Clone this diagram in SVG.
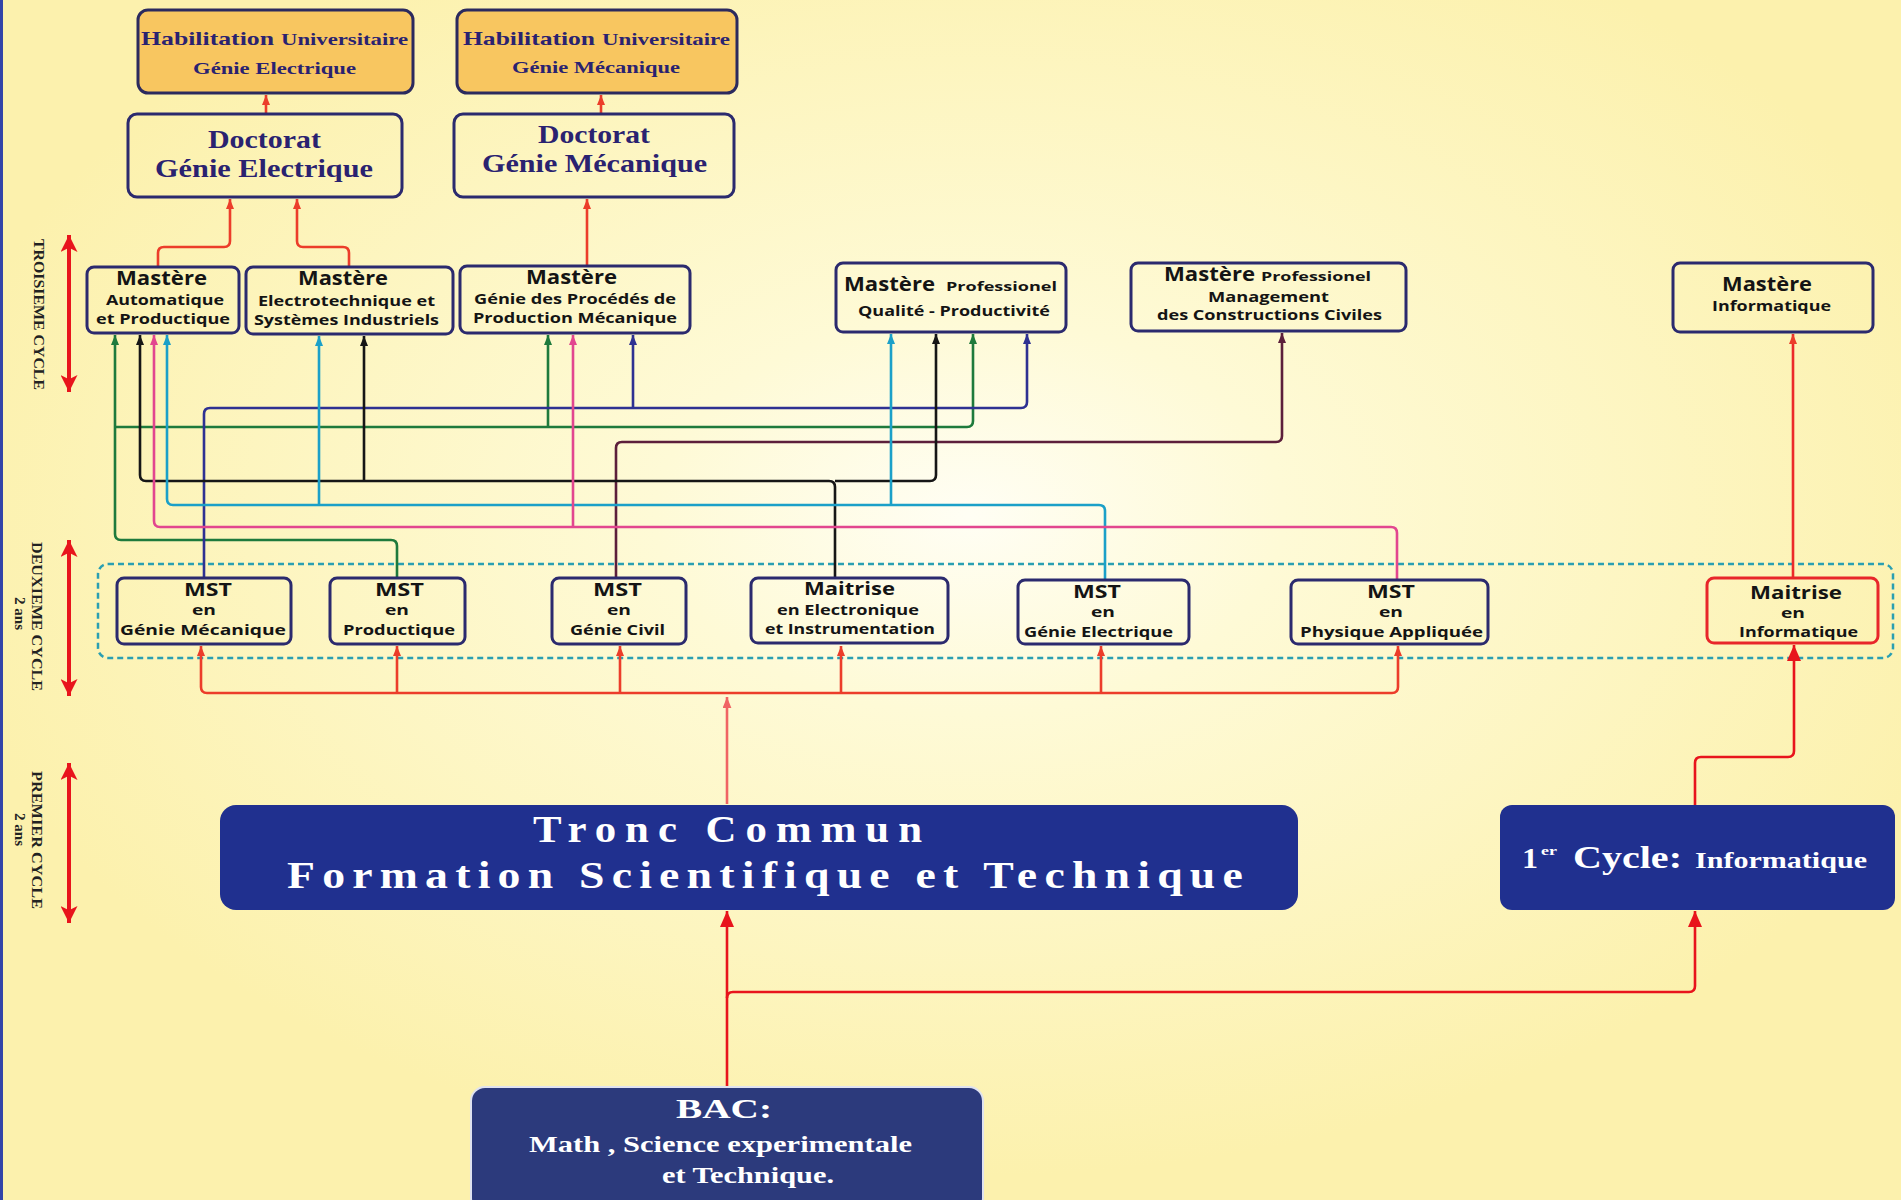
<svg xmlns="http://www.w3.org/2000/svg" width="1901" height="1200" viewBox="0 0 1901 1200">
<defs>
<radialGradient id="bg" cx="51%" cy="43%" r="55%">
<stop offset="0" stop-color="#fffef4"/>
<stop offset="0.3" stop-color="#fefad6"/>
<stop offset="1" stop-color="#fcf1ad"/>
</radialGradient>
<marker id="aGreen" viewBox="0 0 10 8" refX="10" refY="4" markerWidth="10" markerHeight="8" markerUnits="userSpaceOnUse" orient="auto"><path d="M0,0 L10,4 L0,8 z" fill="#1e7a3c"/></marker>
<marker id="aNavy" viewBox="0 0 10 8" refX="10" refY="4" markerWidth="10" markerHeight="8" markerUnits="userSpaceOnUse" orient="auto"><path d="M0,0 L10,4 L0,8 z" fill="#2e3192"/></marker>
<marker id="aBlack" viewBox="0 0 10 8" refX="10" refY="4" markerWidth="10" markerHeight="8" markerUnits="userSpaceOnUse" orient="auto"><path d="M0,0 L10,4 L0,8 z" fill="#161616"/></marker>
<marker id="aCyan" viewBox="0 0 10 8" refX="10" refY="4" markerWidth="10" markerHeight="8" markerUnits="userSpaceOnUse" orient="auto"><path d="M0,0 L10,4 L0,8 z" fill="#1ba0c8"/></marker>
<marker id="aMag" viewBox="0 0 10 8" refX="10" refY="4" markerWidth="10" markerHeight="8" markerUnits="userSpaceOnUse" orient="auto"><path d="M0,0 L10,4 L0,8 z" fill="#e2468f"/></marker>
<marker id="aMar" viewBox="0 0 10 8" refX="10" refY="4" markerWidth="10" markerHeight="8" markerUnits="userSpaceOnUse" orient="auto"><path d="M0,0 L10,4 L0,8 z" fill="#5c1f3b"/></marker>
<marker id="aOr" viewBox="0 0 10 8" refX="10" refY="4" markerWidth="10" markerHeight="8" markerUnits="userSpaceOnUse" orient="auto"><path d="M0,0 L10,4 L0,8 z" fill="#ec3d2a"/></marker>
<marker id="aPink" viewBox="0 0 10 8" refX="10" refY="4" markerWidth="11" markerHeight="9" markerUnits="userSpaceOnUse" orient="auto"><path d="M0,0 L10,4 L0,8 z" fill="#f06464"/></marker>
<marker id="aBig" viewBox="0 0 16 14" refX="16" refY="7" markerWidth="16" markerHeight="14" markerUnits="userSpaceOnUse" orient="auto"><path d="M0,0 L16,7 L0,14 z" fill="#e8141c"/></marker>
<marker id="aCyc" viewBox="0 0 16 16" refX="16" refY="8" markerWidth="17" markerHeight="17" markerUnits="userSpaceOnUse" orient="auto-start-reverse"><path d="M0,0 L16,8 L0,16 L4,8 z" fill="#e8141c"/></marker>
</defs>
<style>
.box{fill:none;stroke:#2b2a6e;stroke-width:3}
.hab{fill:#f8c660;stroke:#2b2a5e;stroke-width:3}
.dk{fill:#20308f}
.s{font-family:"Open Sans","Liberation Sans",sans-serif;font-weight:700;fill:#141414}
.r{font-family:"Liberation Serif",serif;font-weight:700;fill:#2a2270}
.w{font-family:"Liberation Serif",serif;font-weight:700;fill:#ffffff}
.cy{font-family:"Liberation Serif",serif;font-weight:700;fill:#222222;font-size:14px}
.c{fill:none;stroke-width:2.6;stroke-linejoin:round}
</style>

<rect x="0" y="0" width="1901" height="1200" fill="url(#bg)"/>
<rect x="0" y="0" width="3" height="1200" fill="#3344a8"/>

<g id="cycles">
<line x1="69" y1="235" x2="69" y2="392" stroke="#e8141c" stroke-width="4" marker-start="url(#aCyc)" marker-end="url(#aCyc)"/>
<line x1="69" y1="540" x2="69" y2="696" stroke="#e8141c" stroke-width="4" marker-start="url(#aCyc)" marker-end="url(#aCyc)"/>
<line x1="69" y1="763" x2="69" y2="923" stroke="#e8141c" stroke-width="4" marker-start="url(#aCyc)" marker-end="url(#aCyc)"/>
<text class="cy" transform="translate(34,239) rotate(90)" textLength="151" lengthAdjust="spacingAndGlyphs">TROISIEME CYCLE</text>
<text class="cy" transform="translate(32,542) rotate(90)" textLength="149" lengthAdjust="spacingAndGlyphs">DEUXIEME CYCLE</text>
<text class="cy" transform="translate(15,597) rotate(90)" textLength="33" lengthAdjust="spacingAndGlyphs">2 ans</text>
<text class="cy" transform="translate(32,771) rotate(90)" textLength="138" lengthAdjust="spacingAndGlyphs">PREMIER CYCLE</text>
<text class="cy" transform="translate(15,813) rotate(90)" textLength="33" lengthAdjust="spacingAndGlyphs">2 ans</text>
</g>

<rect id="deuxieme-cycle-frame" x="98" y="564" width="1795" height="94" rx="10" fill="none" stroke="#2a9fb2" stroke-width="2.5" stroke-dasharray="6 4"/>

<g id="connectors">
<path class="c" stroke="#ec3d2a" d="M158,267 V253 Q158,247 164,247 H224 Q230,247 230,241 V199" marker-end="url(#aOr)"/>
<path class="c" stroke="#ec3d2a" d="M349,267 V253 Q349,247 343,247 H303 Q297,247 297,241 V199" marker-end="url(#aOr)"/>
<path class="c" stroke="#ec3d2a" d="M587,266 V199" marker-end="url(#aOr)"/>
<path class="c" stroke="#ec3d2a" d="M266,114 V95" marker-end="url(#aOr)"/>
<path class="c" stroke="#ec3d2a" d="M601,114 V95" marker-end="url(#aOr)"/>
<path class="c" stroke="#1e7a3c" d="M397,578 V546 Q397,540 391,540 H121 Q115,540 115,534 V335" marker-end="url(#aGreen)"/>
<path class="c" stroke="#1e7a3c" d="M115,427 H967 Q973,427 973,421 V334" marker-end="url(#aGreen)"/>
<path class="c" stroke="#1e7a3c" d="M548,427 V335" marker-end="url(#aGreen)"/>
<path class="c" stroke="#2e3192" d="M204,578 V414 Q204,408 210,408 H1021 Q1027,408 1027,402 V334" marker-end="url(#aNavy)"/>
<path class="c" stroke="#2e3192" d="M633,408 V335" marker-end="url(#aNavy)"/>
<path class="c" stroke="#5c1f3b" d="M616,578 V448 Q616,442 622,442 H1276 Q1282,442 1282,436 V333" marker-end="url(#aMar)"/>
<path class="c" stroke="#161616" d="M835,578 V487 Q835,481 829,481 H146 Q140,481 140,475 V335" marker-end="url(#aBlack)"/>
<path class="c" stroke="#161616" d="M835,481 H930 Q936,481 936,475 V334" marker-end="url(#aBlack)"/>
<path class="c" stroke="#161616" d="M364,481 V336" marker-end="url(#aBlack)"/>
<path class="c" stroke="#1ba0c8" d="M1105,580 V511 Q1105,505 1099,505 H173 Q167,505 167,499 V335" marker-end="url(#aCyan)"/>
<path class="c" stroke="#1ba0c8" d="M319,505 V336" marker-end="url(#aCyan)"/>
<path class="c" stroke="#1ba0c8" d="M891,505 V334" marker-end="url(#aCyan)"/>
<path class="c" stroke="#e2468f" d="M1397,580 V533 Q1397,527 1391,527 H160 Q154,527 154,521 V335" marker-end="url(#aMag)"/>
<path class="c" stroke="#e2468f" d="M573,527 V335" marker-end="url(#aMag)"/>
<path class="c" stroke="#ec2a2a" d="M1793,578 V334" marker-end="url(#aOr)"/>
<path class="c" stroke="#ec3d2a" d="M727,693 H207 Q201,693 201,687 V646" marker-end="url(#aOr)"/>
<path class="c" stroke="#ec3d2a" d="M727,693 H1392 Q1398,693 1398,687 V646" marker-end="url(#aOr)"/>
<path class="c" stroke="#ec3d2a" d="M397,693 V646" marker-end="url(#aOr)"/>
<path class="c" stroke="#ec3d2a" d="M620,693 V646" marker-end="url(#aOr)"/>
<path class="c" stroke="#ec3d2a" d="M841,693 V646" marker-end="url(#aOr)"/>
<path class="c" stroke="#ec3d2a" d="M1101,693 V646" marker-end="url(#aOr)"/>
<path class="c" stroke="#f06464" stroke-width="2" d="M727,804 V697" marker-end="url(#aPink)"/>
<path class="c" stroke="#e8141c" stroke-width="4" d="M727,1087 V911" marker-end="url(#aBig)"/>
<path class="c" stroke="#e8141c" stroke-width="4" d="M727,998 Q727,992 733,992 H1689 Q1695,992 1695,986 V911" marker-end="url(#aBig)"/>
<path class="c" stroke="#e8141c" stroke-width="4" d="M1695,805 V763 Q1695,757 1701,757 H1788 Q1794,757 1794,751 V645" marker-end="url(#aBig)"/>
</g>

<g id="hab-ge">
<rect class="hab" x="138" y="10" width="275" height="83" rx="10"/>
<text class="r" x="141" y="45" font-size="19" textLength="133" lengthAdjust="spacingAndGlyphs">Habilitation</text>
<text class="r" x="281" y="45" font-size="16" textLength="127" lengthAdjust="spacingAndGlyphs">Universitaire</text>
<text class="r" x="193" y="74" font-size="16" textLength="163" lengthAdjust="spacingAndGlyphs">Génie Electrique</text>
</g>
<g id="hab-gm">
<rect class="hab" x="457" y="10" width="280" height="83" rx="10"/>
<text class="r" x="463" y="45" font-size="19" textLength="132" lengthAdjust="spacingAndGlyphs">Habilitation</text>
<text class="r" x="602" y="45" font-size="16" textLength="128" lengthAdjust="spacingAndGlyphs">Universitaire</text>
<text class="r" x="512" y="73" font-size="16" textLength="168" lengthAdjust="spacingAndGlyphs">Génie Mécanique</text>
</g>

<g id="doc-ge">
<rect class="box" x="128" y="114" width="274" height="83" rx="9"/>
<text class="r" x="208" y="148" font-size="25" textLength="113" lengthAdjust="spacingAndGlyphs">Doctorat</text>
<text class="r" x="155" y="177" font-size="25" textLength="218" lengthAdjust="spacingAndGlyphs">Génie Electrique</text>
</g>
<g id="doc-gm">
<rect class="box" x="454" y="114" width="280" height="83" rx="9"/>
<text class="r" x="538" y="143" font-size="25" textLength="112" lengthAdjust="spacingAndGlyphs">Doctorat</text>
<text class="r" x="482" y="172" font-size="25" textLength="225" lengthAdjust="spacingAndGlyphs">Génie Mécanique</text>
</g>

<g id="m-ap">
<rect class="box" x="87" y="267" width="152" height="66" rx="7"/>
<text class="s" x="116" y="285" font-size="19" textLength="91" lengthAdjust="spacingAndGlyphs">Mastère</text>
<text class="s" x="106" y="305" font-size="13.5" textLength="118" lengthAdjust="spacingAndGlyphs">Automatique</text>
<text class="s" x="96" y="324" font-size="13.5" textLength="134" lengthAdjust="spacingAndGlyphs">et Productique</text>
</g>
<g id="m-esi">
<rect class="box" x="246" y="267" width="207" height="67" rx="7"/>
<text class="s" x="298" y="285" font-size="19" textLength="90" lengthAdjust="spacingAndGlyphs">Mastère</text>
<text class="s" x="258" y="306" font-size="13.5" textLength="177" lengthAdjust="spacingAndGlyphs">Electrotechnique et</text>
<text class="s" x="254" y="325" font-size="13.5" textLength="185" lengthAdjust="spacingAndGlyphs">Systèmes Industriels</text>
</g>
<g id="m-gppm">
<rect class="box" x="460" y="266" width="230" height="67" rx="7"/>
<text class="s" x="526" y="284" font-size="19" textLength="91" lengthAdjust="spacingAndGlyphs">Mastère</text>
<text class="s" x="474" y="304" font-size="13.5" textLength="202" lengthAdjust="spacingAndGlyphs">Génie des Procédés de</text>
<text class="s" x="473" y="323" font-size="13.5" textLength="204" lengthAdjust="spacingAndGlyphs">Production Mécanique</text>
</g>
<g id="m-qp">
<rect class="box" x="836" y="263" width="230" height="69" rx="7"/>
<text class="s" x="844" y="291" font-size="19" textLength="91" lengthAdjust="spacingAndGlyphs">Mastère</text>
<text class="s" x="946" y="291" font-size="13" textLength="111" lengthAdjust="spacingAndGlyphs">Professionel</text>
<text class="s" x="858" y="316" font-size="13.5" textLength="192" lengthAdjust="spacingAndGlyphs">Qualité - Productivité</text>
</g>
<g id="m-mcc">
<rect class="box" x="1131" y="263" width="275" height="68" rx="7"/>
<text class="s" x="1164" y="281" font-size="19" textLength="91" lengthAdjust="spacingAndGlyphs">Mastère</text>
<text class="s" x="1261" y="281" font-size="13" textLength="110" lengthAdjust="spacingAndGlyphs">Professionel</text>
<text class="s" x="1208" y="302" font-size="13.5" textLength="121" lengthAdjust="spacingAndGlyphs">Management</text>
<text class="s" x="1157" y="320" font-size="13.5" textLength="225" lengthAdjust="spacingAndGlyphs">des Constructions Civiles</text>
</g>
<g id="m-info">
<rect class="box" x="1673" y="263" width="200" height="69" rx="7"/>
<text class="s" x="1722" y="291" font-size="19" textLength="90" lengthAdjust="spacingAndGlyphs">Mastère</text>
<text class="s" x="1712" y="311" font-size="13.5" textLength="119" lengthAdjust="spacingAndGlyphs">Informatique</text>
</g>

<g id="mst-gm">
<rect class="box" x="117" y="578" width="174" height="66" rx="7"/>
<text class="s" x="184" y="596" font-size="18" textLength="48" lengthAdjust="spacingAndGlyphs">MST</text>
<text class="s" x="192" y="615" font-size="13.5" textLength="24" lengthAdjust="spacingAndGlyphs">en</text>
<text class="s" x="120" y="635" font-size="14" textLength="166" lengthAdjust="spacingAndGlyphs">Génie Mécanique</text>
</g>
<g id="mst-prod">
<rect class="box" x="330" y="578" width="135" height="66" rx="7"/>
<text class="s" x="375" y="596" font-size="18" textLength="49" lengthAdjust="spacingAndGlyphs">MST</text>
<text class="s" x="385" y="615" font-size="13.5" textLength="24" lengthAdjust="spacingAndGlyphs">en</text>
<text class="s" x="343" y="635" font-size="14" textLength="112" lengthAdjust="spacingAndGlyphs">Productique</text>
</g>
<g id="mst-gc">
<rect class="box" x="552" y="578" width="134" height="66" rx="7"/>
<text class="s" x="593" y="596" font-size="18" textLength="49" lengthAdjust="spacingAndGlyphs">MST</text>
<text class="s" x="607" y="615" font-size="13.5" textLength="24" lengthAdjust="spacingAndGlyphs">en</text>
<text class="s" x="570" y="635" font-size="14" textLength="95" lengthAdjust="spacingAndGlyphs">Génie Civil</text>
</g>
<g id="maitrise-ei">
<rect class="box" x="751" y="578" width="197" height="65" rx="7"/>
<text class="s" x="804" y="595" font-size="17" textLength="91" lengthAdjust="spacingAndGlyphs">Maitrise</text>
<text class="s" x="777" y="615" font-size="14" textLength="142" lengthAdjust="spacingAndGlyphs">en Electronique</text>
<text class="s" x="765" y="634" font-size="14" textLength="170" lengthAdjust="spacingAndGlyphs">et Instrumentation</text>
</g>
<g id="mst-ge">
<rect class="box" x="1018" y="580" width="171" height="64" rx="7"/>
<text class="s" x="1073" y="598" font-size="18" textLength="48" lengthAdjust="spacingAndGlyphs">MST</text>
<text class="s" x="1091" y="617" font-size="13.5" textLength="24" lengthAdjust="spacingAndGlyphs">en</text>
<text class="s" x="1024" y="637" font-size="14" textLength="149" lengthAdjust="spacingAndGlyphs">Génie Electrique</text>
</g>
<g id="mst-pa">
<rect class="box" x="1291" y="580" width="197" height="64" rx="7"/>
<text class="s" x="1367" y="598" font-size="18" textLength="48" lengthAdjust="spacingAndGlyphs">MST</text>
<text class="s" x="1379" y="617" font-size="13.5" textLength="24" lengthAdjust="spacingAndGlyphs">en</text>
<text class="s" x="1300" y="637" font-size="14" textLength="183" lengthAdjust="spacingAndGlyphs">Physique Appliquée</text>
</g>
<g id="maitrise-info">
<rect x="1707" y="578" width="171" height="65" rx="7" fill="none" stroke="#e8262a" stroke-width="3"/>
<text class="s" x="1750" y="599" font-size="17" textLength="92" lengthAdjust="spacingAndGlyphs">Maitrise</text>
<text class="s" x="1781" y="618" font-size="13.5" textLength="24" lengthAdjust="spacingAndGlyphs">en</text>
<text class="s" x="1739" y="637" font-size="14" textLength="119" lengthAdjust="spacingAndGlyphs">Informatique</text>
</g>

<g id="tronc-commun">
<rect class="dk" x="220" y="805" width="1078" height="105" rx="16"/>
<text class="w" x="533" y="842" font-size="38" letter-spacing="8" textLength="398" lengthAdjust="spacingAndGlyphs">Tronc Commun</text>
<text class="w" x="287" y="888" font-size="38" letter-spacing="6" textLength="963" lengthAdjust="spacingAndGlyphs">Formation Scientifique et Technique</text>
</g>
<g id="premier-cycle-info">
<rect class="dk" x="1500" y="805" width="395" height="105" rx="12"/>
<text class="w" x="1522" y="868" font-size="30" textLength="16" lengthAdjust="spacingAndGlyphs">1</text>
<text class="w" x="1541" y="855" font-size="13" textLength="16" lengthAdjust="spacingAndGlyphs">er</text>
<text class="w" x="1573" y="868" font-size="31" textLength="109" lengthAdjust="spacingAndGlyphs">Cycle:</text>
<text class="w" x="1695" y="868" font-size="24" textLength="172" lengthAdjust="spacingAndGlyphs">Informatique</text>
</g>
<g id="bac">
<rect x="471" y="1087" width="512" height="125" rx="14" fill="#2c3a7c" stroke="#dfe2f0" stroke-width="2"/>
<text class="w" x="676" y="1118" font-size="28" textLength="96" lengthAdjust="spacingAndGlyphs" fill="#f2f2f6">BAC:</text>
<text class="w" x="529" y="1152" font-size="23" textLength="383" lengthAdjust="spacingAndGlyphs">Math , Science experimentale</text>
<text class="w" x="662" y="1183" font-size="23" textLength="172" lengthAdjust="spacingAndGlyphs">et Technique.</text>
</g>
</svg>
